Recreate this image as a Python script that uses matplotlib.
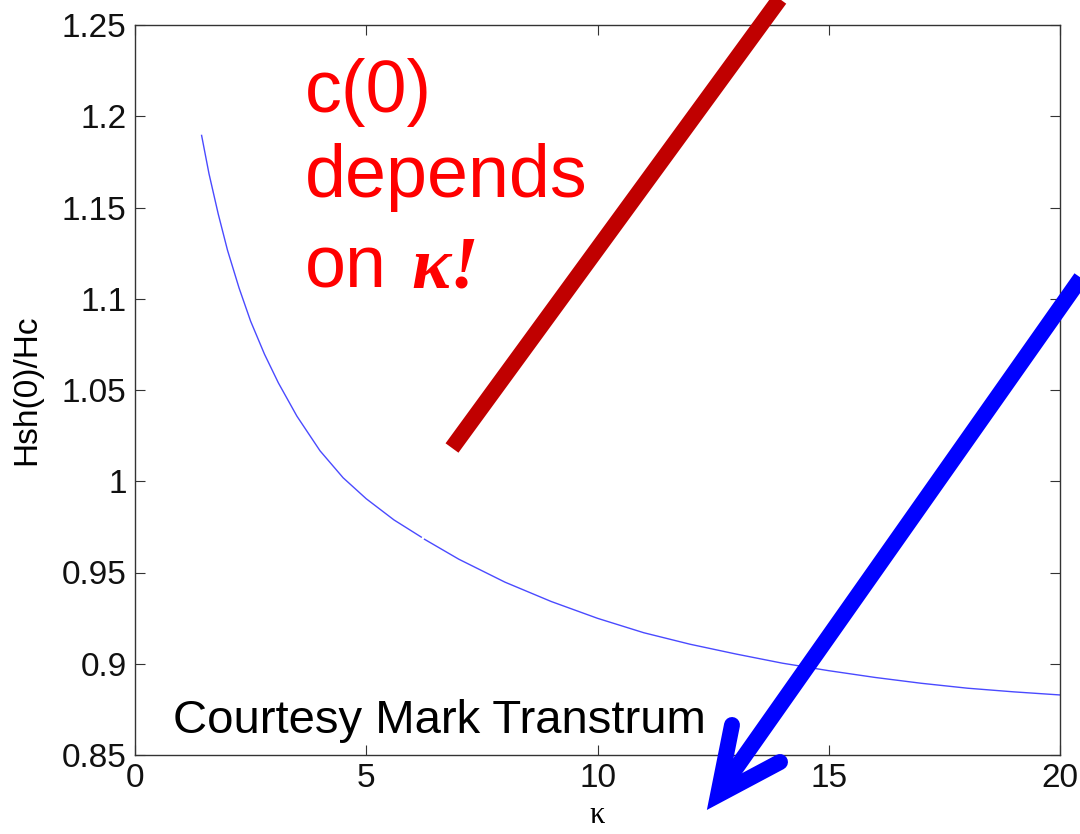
import matplotlib
matplotlib.use("Agg")
import matplotlib.pyplot as plt
from matplotlib.lines import Line2D

# curve (two pieces, small break near kappa ~ 6.2)
kappa_a = [1.44, 1.6, 1.8, 2.0, 2.25, 2.5, 2.8, 3.1, 3.5, 4.0, 4.5, 5.0, 5.6, 6.19]
hsh_a = [1.1895, 1.1685, 1.1464, 1.1266, 1.1059, 1.0877, 1.0696, 1.0539, 1.0357,
         1.0167, 1.0019, 0.9904, 0.9788, 0.9694]
kappa_b = [6.26, 7, 8, 9, 10, 11, 12, 13, 14, 15, 16, 17, 18, 19, 20]
hsh_b = [0.9682, 0.9573, 0.9447, 0.9341, 0.9249, 0.9170, 0.9107, 0.9053, 0.9003,
         0.8962, 0.8925, 0.8893, 0.8866, 0.8846, 0.8829]

xticks = [0, 5, 10, 15, 20]
yticks = [0.85, 0.9, 0.95, 1, 1.05, 1.1, 1.15, 1.2, 1.25]
ytick_labels = ['0.85', '0.9', '0.95', '1', '1.05', '1.1', '1.15', '1.2', '1.25']

W, H = 1080, 834
plt.rcParams['font.family'] = ['Liberation Sans', 'DejaVu Sans']

fig = plt.figure(figsize=(W / 100, H / 100), dpi=100)
ax = fig.add_axes([135 / W, 1 - 755 / H, (1060 - 135) / W, (755 - 25) / H])

ax.plot(kappa_a, hsh_a, color='#4a4aff', lw=1.0)
ax.plot(kappa_b, hsh_b, color='#4a4aff', lw=1.0)

ax.set_xlim(0, 20)
ax.set_ylim(0.85, 1.25)
ax.set_xticks(xticks)
ax.set_yticks(yticks)
ax.set_yticklabels(ytick_labels)
ax.tick_params(direction='in', length=7, width=0.8, labelsize=24, top=True, right=True,
               labelcolor='#111111', color='#333333', pad=6)
for s in ax.spines.values():
    s.set_linewidth(1.0)
    s.set_color('#333333')

ax.set_ylabel('Hsh(0)/Hc', fontsize=24)
ax.yaxis.set_label_coords(42 / W, 1 - 390 / H, transform=fig.transFigure)
ax.set_xlabel('κ', fontsize=22, family='Liberation Serif', labelpad=5)


def fx(px):
    return px / W


def fy(py):
    return 1 - py / H


# annotation text
red_lines = ['c(0)', 'depends', 'on']
baselines = [112, 197, 287]
for txt, b in zip(red_lines, baselines):
    fig.text(fx(305), fy(b), txt, color='#ff0000', fontsize=53,
             va='baseline', ha='left')
fig.text(fx(411), fy(287), 'κ!', color='#ff0000', fontsize=53, family='Liberation Serif',
         style='italic', weight='bold', va='baseline', ha='left')
fig.text(fx(173), fy(733), 'Courtesy Mark Transtrum', color='black', fontsize=34,
         va='baseline', ha='left')

# dark red slash
fig.add_artist(Line2D([fx(452), fx(790)], [fy(448), fy(-15)], color='#c00000',
                      lw=11.5, solid_capstyle='butt'))
# blue arrow with chevron head
fig.add_artist(Line2D([fx(1095), fx(722)], [fy(258), fy(788)], color='#0000ff',
                      lw=11.5, solid_capstyle='butt'))
fig.add_artist(Line2D([fx(732), fx(718), fx(780)], [fy(725), fy(795), fy(762)],
                      color='#0000ff', lw=11.5, solid_capstyle='round',
                      solid_joinstyle='miter'))

fig.savefig('out.png', dpi=100)
